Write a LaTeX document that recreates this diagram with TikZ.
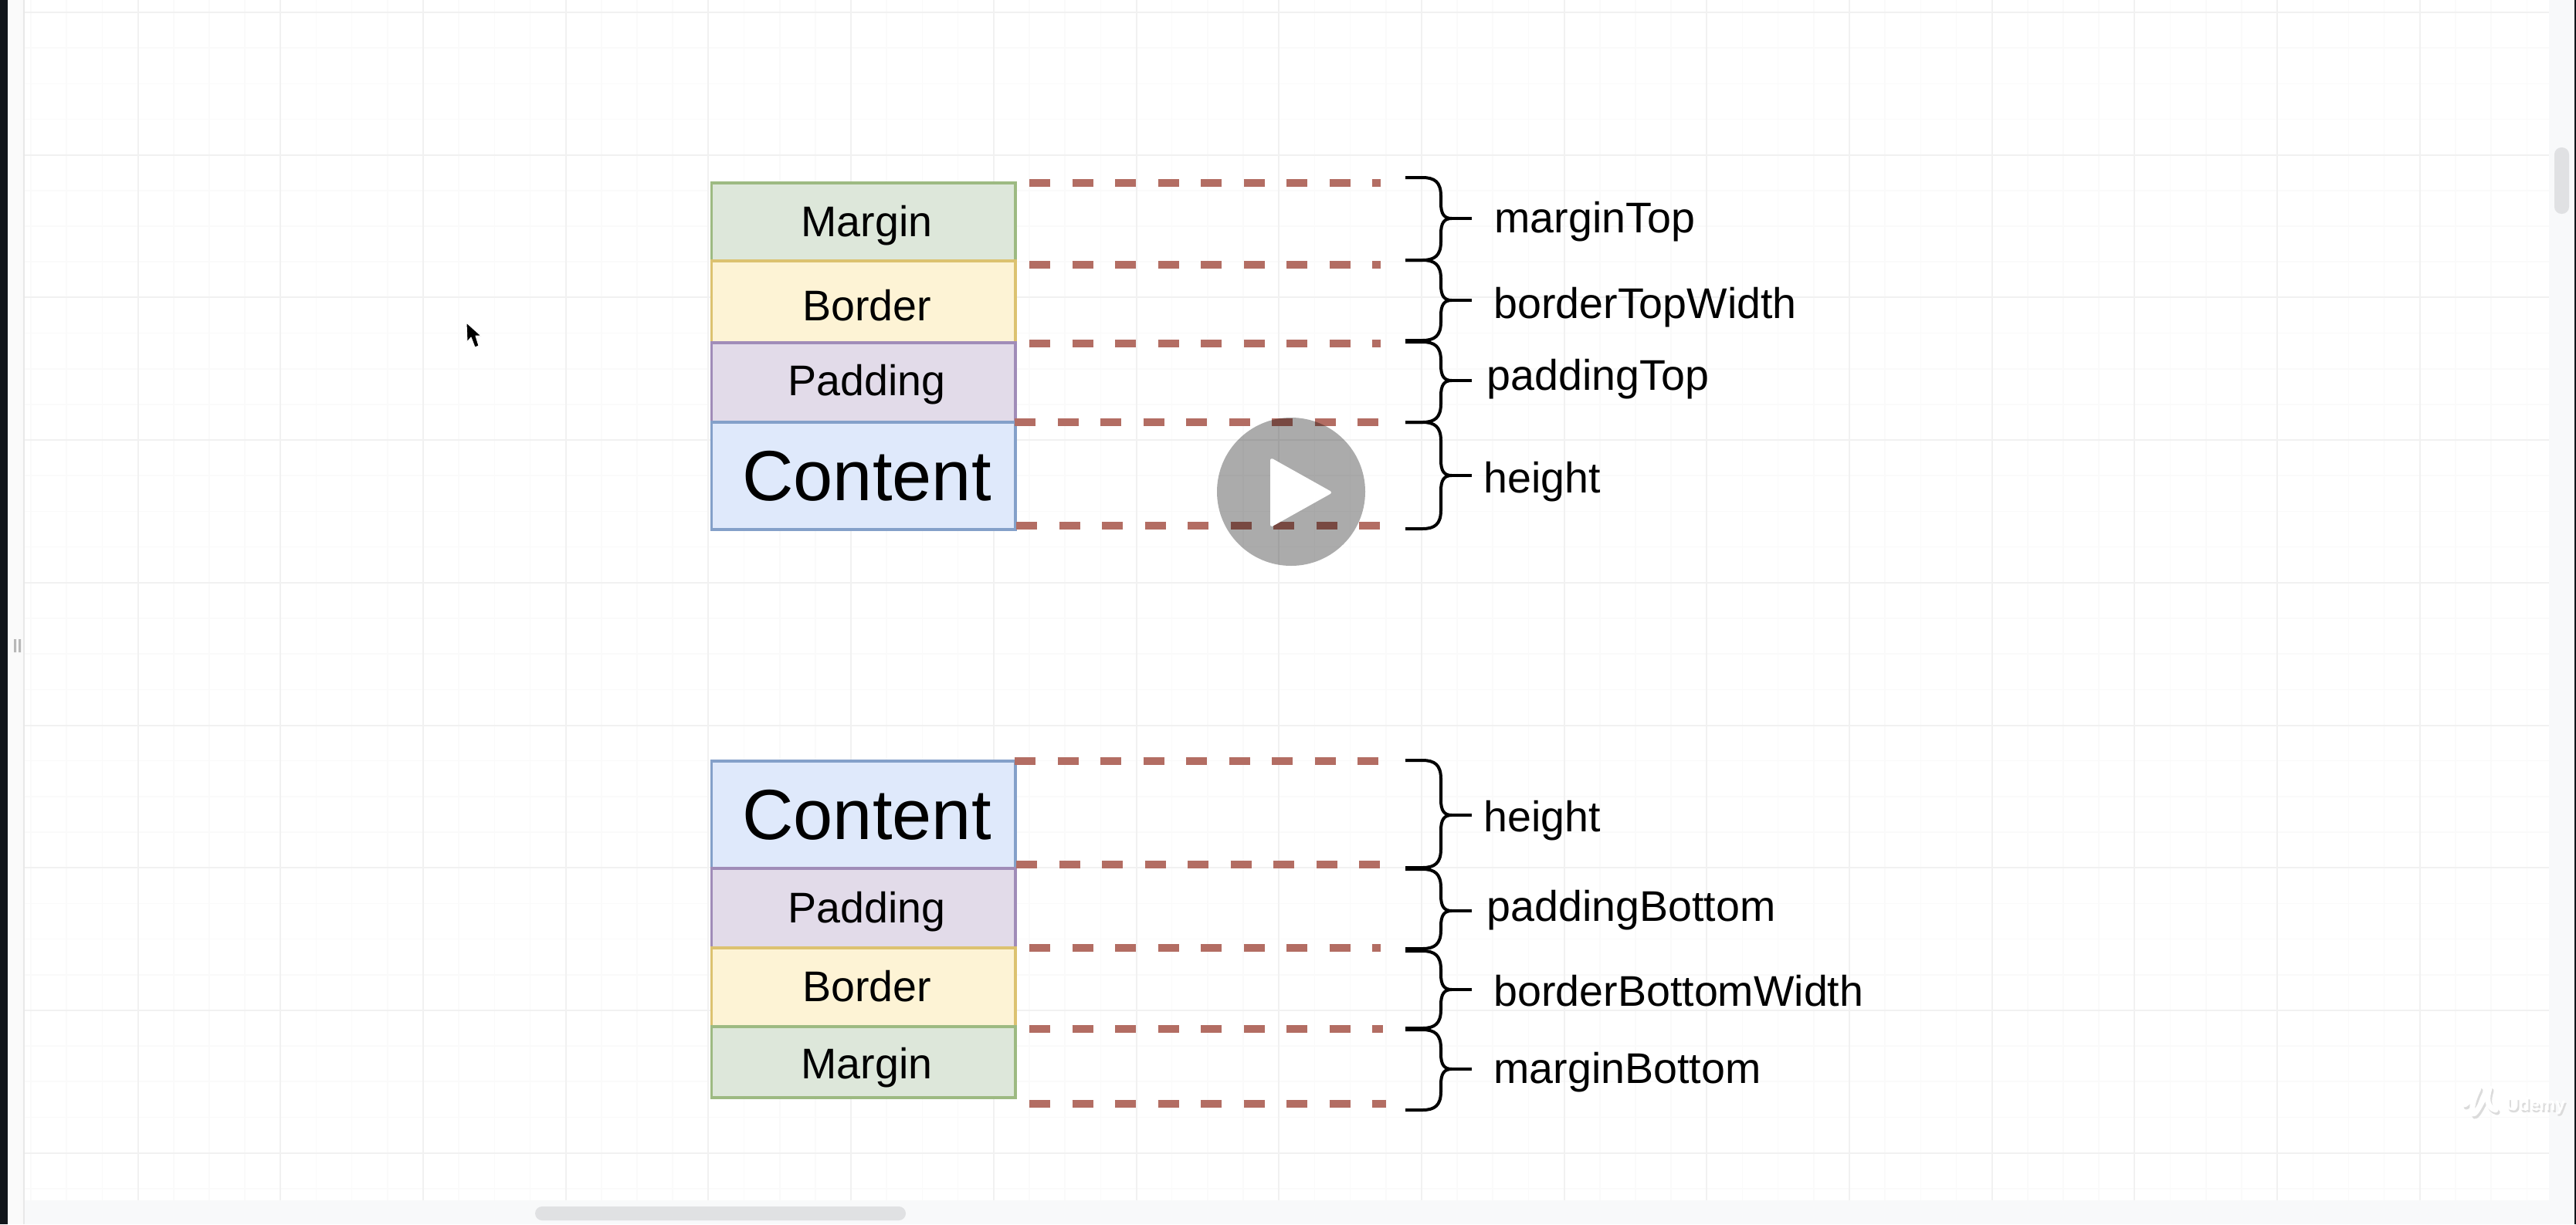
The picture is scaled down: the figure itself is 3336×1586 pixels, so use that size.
\documentclass[tikz,border=0pt]{standalone}
\usepackage{fontspec}
\setmainfont{Liberation Sans}
\usetikzlibrary{calc}
\definecolor{minorgrid}{HTML}{FAFAFA}
\definecolor{majorgrid}{HTML}{F1F1F1}
\definecolor{panelbg}{HTML}{F8F9FA}
\definecolor{thumbgrey}{HTML}{E0E1E3}
\definecolor{dashred}{HTML}{B36D63}
\definecolor{darkedge}{HTML}{11161B}
\definecolor{mfill}{HTML}{DDE7DA}\definecolor{mline}{HTML}{9DBA82}
\definecolor{bfill}{HTML}{FDF3D5}\definecolor{bline}{HTML}{DCC270}
\definecolor{pfill}{HTML}{E2DBE9}\definecolor{pline}{HTML}{A08CB8}
\definecolor{cfill}{HTML}{DFE9FB}\definecolor{cline}{HTML}{84A0C9}
\tikzset{
  rowbox/.style={draw,line width=1.6pt,inner sep=0pt,outer sep=0pt,anchor=north west,minimum width=196.75pt},
  marginrow/.style={rowbox,fill=mfill,draw=mline},
  borderrow/.style={rowbox,fill=bfill,draw=bline},
  paddingrow/.style={rowbox,fill=pfill,draw=pline},
  contentrow/.style={rowbox,fill=cfill,draw=cline},
  rowtext/.style={anchor=base,inner sep=0pt,font=\fontsize{27.8}{30}\selectfont},
  bigtext/.style={anchor=base,inner sep=0pt,font=\fontsize{46}{50}\selectfont},
  sidetext/.style={anchor=base west,inner sep=0pt,font=\fontsize{27.8}{30}\selectfont},
  dashrule/.style={draw=dashred,line width=5pt,dash pattern=on 13.5pt off 14.25pt},
  curlyline/.style={draw=black,line width=2pt,line join=round},
}
% id, style, top, bottom, text style, text, baseline
\newcommand\rowentry[7]{%
  \node[#2,minimum height={(#4-#3)*0.5pt}] (#1) at (921.5,#3) {};
  \node[#5] (#1-t) at (1122.5,#7) {#6};
}
\newcommand\dashrow[4]{%
  \coordinate (#1-a) at (#2,#4);
  \coordinate (#1-b) at (#3,#4);
  \draw[dashrule] (#1-a) -- (#1-b);
}
% id, top, tip, bottom
\newcommand\curlybar[4]{%
  \coordinate (#1-s) at (1820,#2);
  \coordinate (#1-e) at (1820,#4);
  \coordinate (#1-j) at (1880,#3);
  \coordinate (#1-k) at (1906,#3);
  \draw[curlyline] (#1-s) -- (1842,#2) .. controls (1858,#2) and (1866,{#2+6}) .. (1866,{#2+24})
    -- (1866,{#3-20}) .. controls (1866,{#3-6}) and (1870,#3) .. (#1-j)
    .. controls (1870,#3) and (1866,{#3+6}) .. (1866,{#3+20})
    -- (1866,{#4-24}) .. controls (1866,{#4-6}) and (1858,#4) .. (1842,#4) -- (#1-e);
  \draw[curlyline] (#1-j) -- (#1-k);
}
\begin{document}
\begin{tikzpicture}[x=0.5pt,y=-0.5pt]
\useasboundingbox (0,0) rectangle (3336,1586);
\fill[white] (0,0) rectangle (3336,1586);
% grid
\foreach \k in {-3,...,67}{\pgfmathsetmacro\gx{178.6+46.175*\k}
  \draw[minorgrid,line width=0.8pt] (\gx,0) -- (\gx,1555);}
\foreach \k in {0,...,33}{\pgfmathsetmacro\gy{16+46.175*\k}
  \draw[minorgrid,line width=0.8pt] (31,\gy) -- (3301,\gy);}
\foreach \k in {0,...,16}{\pgfmathsetmacro\gx{178.6+184.7*\k}
  \draw[majorgrid,line width=1pt] (\gx,0) -- (\gx,1555);}
\foreach \k in {0,...,8}{\pgfmathsetmacro\gy{16+184.7*\k}
  \draw[majorgrid,line width=1pt] (31,\gy) -- (3301,\gy);}
% window chrome
\fill[panelbg] (31,1555) rectangle (3336,1586);
\fill[panelbg] (3301,0) rectangle (3336,1586);
\fill[white!98!black] (10,0) rectangle (31,1586);
\fill[darkedge] (0,0) rectangle (10,1586);
\fill[darkedge] (3334,0) rectangle (3336,1586);
\draw[black!9,line width=1pt] (31,0) -- (31,1586);
\fill[thumbgrey,rounded corners=4.5pt] (3308,191) rectangle (3327,277);
\fill[thumbgrey,rounded corners=4.5pt] (693,1563) rectangle (1173,1581);
\fill[black!28] (18,828) rectangle (21,845) (24,828) rectangle (27,845);
% cursor
\fill[black,draw=white,line width=0.5pt,line join=round] (604,418) -- (605,443) -- (610,437) -- (615,450) -- (620,448) -- (616,435) -- (623,435) -- cycle;
% top stack
\rowentry{tm}{marginrow}{237}{338}{rowtext}{Margin}{306}
\rowentry{tb}{borderrow}{338}{444}{rowtext}{Border}{415}
\rowentry{tp}{paddingrow}{444}{547}{rowtext}{Padding}{512}
\rowentry{tc}{contentrow}{547}{686}{bigtext}{Content}{648}
% bottom stack
\rowentry{bc}{contentrow}{986}{1125}{bigtext}{Content}{1087}
\rowentry{bp}{paddingrow}{1125}{1228}{rowtext}{Padding}{1195}
\rowentry{bb}{borderrow}{1228}{1330}{rowtext}{Border}{1297}
\rowentry{bm}{marginrow}{1330}{1422}{rowtext}{Margin}{1397}
% dashed guides
\dashrow{d1}{1333}{1788}{237}
\dashrow{d2}{1333}{1788}{343}
\dashrow{d3}{1333}{1788}{445}
\dashrow{d4}{1314}{1785}{547}
\dashrow{d5}{1316}{1788}{681}
\dashrow{d6}{1314}{1785}{986}
\dashrow{d7}{1316}{1788}{1120}
\dashrow{d8}{1333}{1788}{1228}
\dashrow{d9}{1333}{1791}{1333}
\dashrow{d10}{1333}{1795}{1430}
% braces
\curlybar{c1}{230}{283}{337}
\curlybar{c2}{337}{389}{441}
\curlybar{c3}{443}{493}{547}
\curlybar{c4}{547}{616}{685}
\curlybar{c5}{985}{1056}{1124}
\curlybar{c6}{1126}{1180}{1229}
\curlybar{c7}{1232}{1282}{1332}
\curlybar{c8}{1334}{1385}{1438}
% labels
\node[sidetext] (l1) at (1935,301) {marginTop};
\node[sidetext] (l2) at (1934,412) {borderTopWidth};
\node[sidetext] (l3) at (1925,505) {paddingTop};
\node[sidetext] (l4) at (1921,638) {height};
\node[sidetext] (l5) at (1921,1077) {height};
\node[sidetext] (l6) at (1925,1193) {paddingBottom};
\node[sidetext] (l7) at (1934,1303) {borderBottomWidth};
\node[sidetext] (l8) at (1934,1403) {marginBottom};
% play button
\fill[black,opacity=0.33] (1672,637) circle[radius=96];
\fill[white,draw=white,line width=2pt,line join=round] (1647,596) -- (1722,638) -- (1647,680) -- cycle;
% watermark
\draw[black!14,line width=3.5pt,line cap=round,line join=round] (3194,1434) .. controls (3203,1428) and (3210,1418) .. (3212,1413) .. controls (3206,1425) and (3201,1440) .. (3205,1446) .. controls (3210,1446) and (3218,1425) .. (3226,1413) .. controls (3222,1425) and (3222,1438) .. (3234,1441);
\draw[white,line width=3.5pt,line cap=round,line join=round] (3192,1431) .. controls (3201,1425) and (3208,1415) .. (3210,1410) .. controls (3204,1422) and (3199,1437) .. (3203,1443) .. controls (3208,1443) and (3216,1422) .. (3224,1410) .. controls (3220,1422) and (3220,1435) .. (3232,1438);
\node[anchor=base west,inner sep=0pt,text=black!14,font=\fontsize{11.5}{13}\selectfont\bfseries] (u0) at (3247,1441) {Udemy};
\node[anchor=base west,inner sep=0pt,text=white,font=\fontsize{11.5}{13}\selectfont\bfseries] (u1) at (3245,1438) {Udemy};
\end{tikzpicture}
\end{document}
